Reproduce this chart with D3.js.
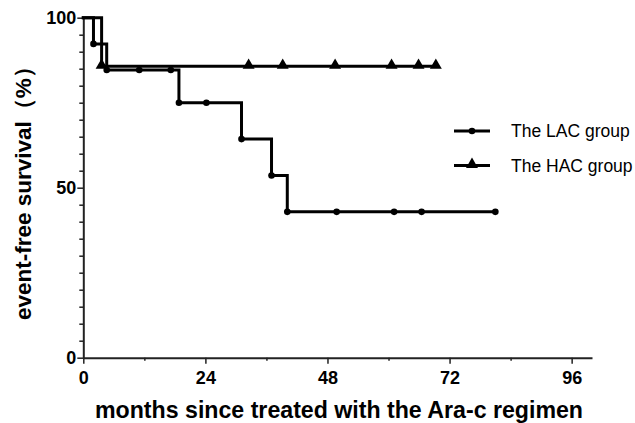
<!DOCTYPE html>
<html>
<head>
<meta charset="utf-8">
<title>Event-free survival</title>
<script src="https://d3js.org/d3.v7.min.js"></script>
<style>
  body { margin: 0; background: #fff; }
  text { font-family: "Liberation Sans", Arial, sans-serif; }
</style>
</head>
<body>
<svg width="635" height="423"></svg>
<script>
// Kaplan-Meier steps (months, % surviving)
const lacStepTimes = [0, 2.0, 4.6, 18.8, 31.1, 37.0, 40.1, 81.0];
const lacStepValues = [100, 92.3, 84.6, 75.0, 64.3, 53.6, 42.9, 42.9];
const lacMarkTimes = [2.0, 4.6, 11.0, 17.2, 18.8, 24.2, 31.1, 37.0, 40.1, 49.8, 61.1, 66.5, 81.0];

const hacStepTimes = [0, 3.6, 69.3];
const hacStepValues = [100, 85.7, 85.7];
const hacMarkTimes = [3.6, 32.5, 39.2, 49.5, 60.6, 65.9, 69.3];

const xMajor = [0, 24, 48, 72, 96];
const xMinor = [12, 36, 60, 84];
const yMajor = [0, 50, 100];
const yMinor = d3.range(5, 100, 5).filter(v => v !== 50);

const groups = ["The LAC group", "The HAC group"];

const svg = d3.select("svg");

const x = d3.scaleLinear().domain([0, 100]).range([83.3, 592]);
const y = d3.scaleLinear().domain([0, 100]).range([357.7, 17.7]);

// value of a step curve at time t
function stepAt(times, values, t) {
    let v = values[0];
    for (let i = 0; i < times.length; i++) if (times[i] <= t) v = values[i];
    return v;
}

// axes
const axisColor = "#222";
const xAxis = svg.append("g").attr("transform", `translate(0,${y(0)})`);
xAxis.call(d3.axisBottom(x).tickValues(xMajor).tickSize(6).tickPadding(8).tickSizeOuter(0));
xAxis.append("g").call(d3.axisBottom(x).tickValues(xMinor).tickSize(3).tickFormat("").tickSizeOuter(0))
     .select(".domain").remove();

const yAxis = svg.append("g").attr("transform", `translate(${x(0)},0)`);
yAxis.call(d3.axisLeft(y).tickValues(yMajor).tickSize(6).tickPadding(1).tickSizeOuter(0));
yAxis.append("g").call(d3.axisLeft(y).tickValues(yMinor).tickSize(4).tickFormat("").tickSizeOuter(0))
     .select(".domain").remove();

svg.selectAll(".domain").attr("stroke", axisColor).attr("stroke-width", 2);
svg.selectAll(".tick line").attr("stroke", axisColor).attr("stroke-width", 1.5);
svg.selectAll(".tick text")
   .attr("fill", "#000")
   .style("font-size", "18px")
   .style("font-weight", "bold")
   .style("font-family", "'Liberation Sans', Arial, sans-serif");

// curves
const line = d3.line().x(d => x(d[0])).y(d => y(d[1])).curve(d3.curveStepAfter);

function drawCurve(times, values) {
    svg.append("path")
       .datum(times.map((t, i) => [t, values[i]]))
       .attr("d", line)
       .attr("fill", "none")
       .attr("stroke", "#000")
       .attr("stroke-width", 3)
       .attr("stroke-linecap", "square");
}
drawCurve(hacStepTimes, hacStepValues);
drawCurve(lacStepTimes, lacStepValues);

const tri = d3.symbol().type(d3.symbolTriangle).size(62);

svg.selectAll(".lacMark")
   .data(lacMarkTimes)
   .enter().append("circle")
   .attr("class", "lacMark")
   .attr("cx", d => x(d))
   .attr("cy", d => y(stepAt(lacStepTimes, lacStepValues, d)))
   .attr("r", 3.3)
   .attr("fill", "#000");

svg.selectAll(".hacMark")
   .data(hacMarkTimes)
   .enter().append("path")
   .attr("class", "hacMark")
   .attr("d", tri)
   .attr("transform", d => `translate(${x(d)},${y(stepAt(hacStepTimes, hacStepValues, d)) - 1})`)
   .attr("fill", "#000");

// legend
const legend = svg.append("g").attr("transform", "translate(454,131)");
groups.forEach((g, i) => {
    const row = legend.append("g").attr("transform", `translate(0,${i * 34.5})`);
    row.append("line").attr("x1", 0).attr("x2", 36).attr("y1", 0).attr("y2", 0)
       .attr("stroke", "#000").attr("stroke-width", 3);
    if (i === 0) {
        row.append("circle").attr("cx", 18).attr("cy", 0).attr("r", 3.3).attr("fill", "#000");
    } else {
        row.append("path").attr("d", tri).attr("transform", "translate(18,-1)").attr("fill", "#000");
    }
    row.append("text").attr("x", 57).attr("y", 6)
       .style("font-size", "17.5px")
       .text(g);
});

// axis titles
svg.append("text")
   .attr("x", 95)
   .attr("y", 418)
   .attr("textLength", 488)
   .attr("lengthAdjust", "spacingAndGlyphs")
   .style("font-size", "24px")
   .style("font-weight", "bold")
   .text("months since treated with the Ara-c regimen");

svg.append("text")
   .attr("transform", `translate(31,${y(50)}) rotate(-90)`)
   .attr("text-anchor", "middle")
   .style("font-size", "22.5px")
   .style("font-weight", "bold")
   .text("event-free survival（%）");
</script>
</body>
</html>
